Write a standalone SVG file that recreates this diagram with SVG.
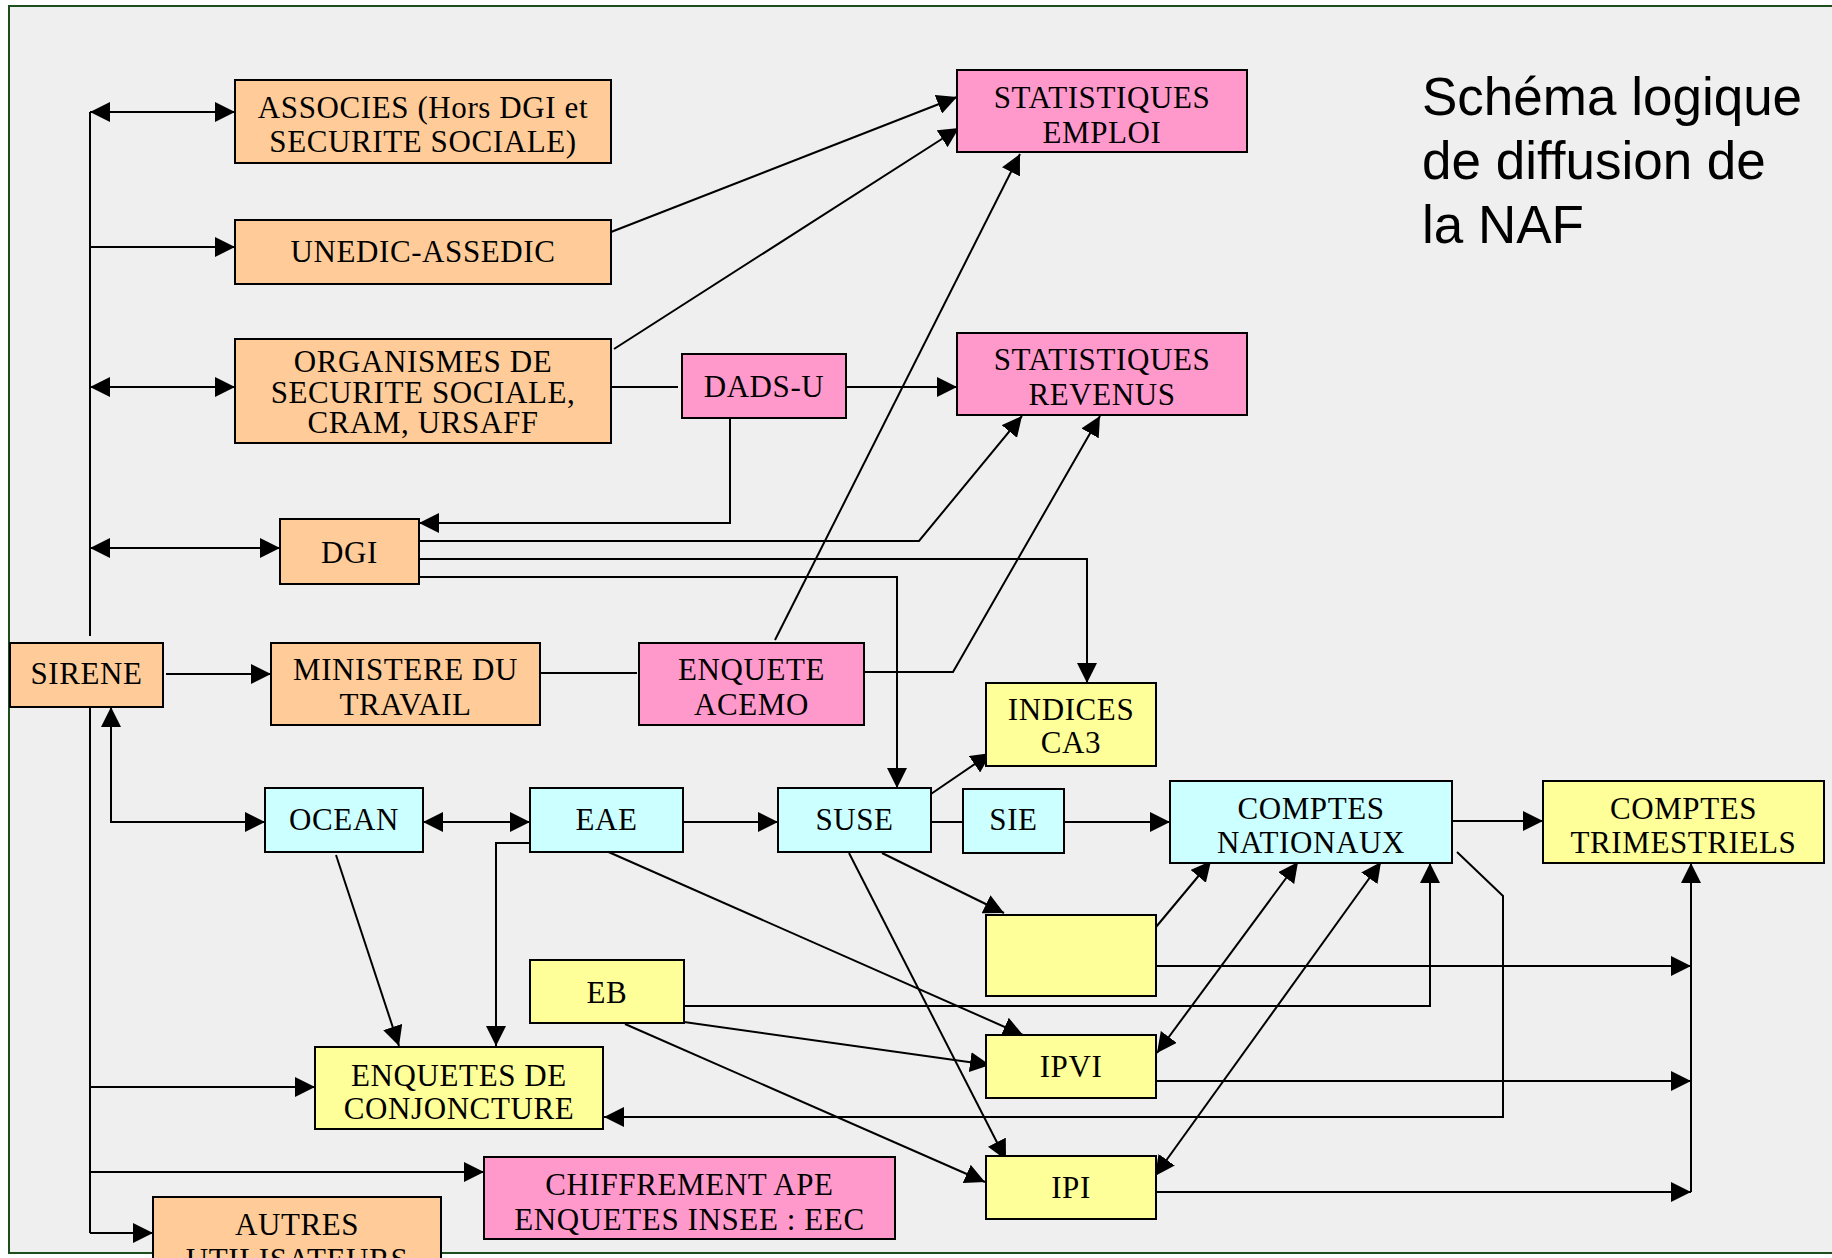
<svg xmlns="http://www.w3.org/2000/svg" width="1832" height="1258" viewBox="0 0 1832 1258">
<defs>
<marker id="ah" viewBox="0 0 20 20" markerUnits="userSpaceOnUse" markerWidth="20" markerHeight="20" refX="20" refY="10" orient="auto-start-reverse">
<path d="M0,0 L20,10 L0,20 z" fill="#000"/>
</marker>
<style>
.n rect{stroke:#000;stroke-width:2}
.or{fill:#FFCC99}
.pk{fill:#FF99CC}
.cy{fill:#CCFFFF}
.ye{fill:#FFFF99}
.n text{font-family:"Liberation Serif","Times New Roman",serif;font-size:31px;letter-spacing:0.6px;fill:#000;text-anchor:middle}
#conn path{fill:none;stroke:#000;stroke-width:2}
.e{marker-end:url(#ah)}
.b{marker-start:url(#ah);marker-end:url(#ah)}
.title{font-family:"Liberation Sans",Arial,sans-serif;font-size:53px;fill:#000}
</style>
</defs>
<rect x="0" y="0" width="1832" height="1258" fill="#FFFFFF"/>
<rect x="9" y="6" width="1840" height="1247" fill="#EFEFEF" stroke="#1E4D1E" stroke-width="2"/>
<text class="title" x="1422" y="115">Schéma logique</text>
<text class="title" x="1422" y="179">de diffusion de</text>
<text class="title" x="1422" y="243">la NAF</text>
<g id="conn">
<path class="b" d="M90,112 H235"/>
<path class="e" d="M90,247 H235"/>
<path class="b" d="M90,387 H235"/>
<path class="b" d="M90,548 H280"/>
<path d="M90,112 V636"/>
<path d="M90,707 V1233"/>
<path class="e" d="M166,674 H271"/>
<path class="b" d="M265,822 H111 V707"/>
<path class="b" d="M423,822 H530"/>
<path class="e" d="M90,1087 H315"/>
<path class="e" d="M90,1172 H484"/>
<path class="e" d="M90,1233 H153"/>
<path class="e" d="M611,232 L957,97"/>
<path class="e" d="M614,349 L959,128"/>
<path d="M611,387 H678"/>
<path class="e" d="M846,387 H957"/>
<path class="e" d="M730,418 V523 H419"/>
<path class="e" d="M419,541 H919 L1022,416"/>
<path class="e" d="M419,559 H1087 V683"/>
<path class="e" d="M419,577 H897 V788"/>
<path d="M540,673 H637"/>
<path class="e" d="M775,640 L1020,154"/>
<path class="e" d="M864,672 H953 L1100,416"/>
<path class="e" d="M928,796 L991,753"/>
<path class="e" d="M683,822 H778"/>
<path d="M931,822 H963"/>
<path class="e" d="M1064,822 H1170"/>
<path class="e" d="M1452,821 H1543"/>
<path class="e" d="M530,843 H496 V1046"/>
<path class="e" d="M336,855 L399,1046"/>
<path class="e" d="M604,850 L1023,1035"/>
<path class="e" d="M882,853 L1004,913"/>
<path class="e" d="M849,853 L1006,1160"/>
<path class="e" d="M684,1006 H1430 V863"/>
<path class="e" d="M684,1022 L990,1065"/>
<path class="e" d="M625,1024 L985,1182"/>
<path class="e" d="M1156,927 L1211,861"/>
<path class="b" d="M1298,862 L1157,1053"/>
<path class="b" d="M1381,862 L1155,1176"/>
<path class="e" d="M1457,852 L1503,896 V1117 H604"/>
<path class="e" d="M1156,966 H1691"/>
<path class="e" d="M1156,1081 H1691"/>
<path class="e" d="M1156,1192 H1691"/>
<path class="e" d="M1691,1192 V863"/>
</g>
<g id="associes" class="n"><rect class="or" x="235" y="80" width="376" height="83"/><text x="423" y="118">ASSOCIES (Hors DGI et</text><text x="423" y="152">SECURITE SOCIALE)</text></g>
<g id="unedic" class="n"><rect class="or" x="235" y="220" width="376" height="64"/><text x="423" y="262">UNEDIC-ASSEDIC</text></g>
<g id="organismes" class="n"><rect class="or" x="235" y="339" width="376" height="104"/><text x="423" y="372">ORGANISMES DE</text><text x="423" y="403">SECURITE SOCIALE,</text><text x="423" y="433">CRAM, URSAFF</text></g>
<g id="dgi" class="n"><rect class="or" x="280" y="519" width="139" height="65"/><text x="349.5" y="563">DGI</text></g>
<g id="sirene" class="n"><rect class="or" x="10" y="643" width="153" height="64"/><text x="86.5" y="684">SIRENE</text></g>
<g id="ministere" class="n"><rect class="or" x="271" y="643" width="269" height="82"/><text x="405.5" y="680">MINISTERE DU</text><text x="405.5" y="715">TRAVAIL</text></g>
<g id="ocean" class="n"><rect class="cy" x="265" y="788" width="158" height="64"/><text x="344" y="830">OCEAN</text></g>
<g id="eae" class="n"><rect class="cy" x="530" y="788" width="153" height="64"/><text x="606.5" y="830">EAE</text></g>
<g id="suse" class="n"><rect class="cy" x="778" y="788" width="153" height="64"/><text x="854.5" y="830">SUSE</text></g>
<g id="sie" class="n"><rect class="cy" x="963" y="789" width="101" height="64"/><text x="1013.5" y="830">SIE</text></g>
<g id="comptes-nationaux" class="n"><rect class="cy" x="1170" y="781" width="282" height="82"/><text x="1311" y="819">COMPTES</text><text x="1311" y="853">NATIONAUX</text></g>
<g id="comptes-trimestriels" class="n"><rect class="ye" x="1543" y="781" width="281" height="82"/><text x="1683.5" y="819">COMPTES</text><text x="1683.5" y="853">TRIMESTRIELS</text></g>
<g id="stat-emploi" class="n"><rect class="pk" x="957" y="70" width="290" height="82"/><text x="1102" y="108">STATISTIQUES</text><text x="1102" y="143">EMPLOI</text></g>
<g id="stat-revenus" class="n"><rect class="pk" x="957" y="333" width="290" height="82"/><text x="1102" y="370">STATISTIQUES</text><text x="1102" y="405">REVENUS</text></g>
<g id="dads-u" class="n"><rect class="pk" x="682" y="354" width="164" height="64"/><text x="764" y="397">DADS-U</text></g>
<g id="acemo" class="n"><rect class="pk" x="639" y="643" width="225" height="82"/><text x="751.5" y="680">ENQUETE</text><text x="751.5" y="715">ACEMO</text></g>
<g id="indices" class="n"><rect class="ye" x="986" y="683" width="170" height="83"/><text x="1071" y="720">INDICES</text><text x="1071" y="753">CA3</text></g>
<g id="eb" class="n"><rect class="ye" x="530" y="960" width="154" height="63"/><text x="607" y="1003">EB</text></g>
<g id="vide" class="n"><rect class="ye" x="986" y="915" width="170" height="81"/></g>
<g id="enquetes-conj" class="n"><rect class="ye" x="315" y="1047" width="288" height="82"/><text x="459" y="1086">ENQUETES DE</text><text x="459" y="1119">CONJONCTURE</text></g>
<g id="ipvi" class="n"><rect class="ye" x="986" y="1035" width="170" height="63"/><text x="1071" y="1077">IPVI</text></g>
<g id="ipi" class="n"><rect class="ye" x="986" y="1156" width="170" height="63"/><text x="1071" y="1198">IPI</text></g>
<g id="chiffrement" class="n"><rect class="pk" x="484" y="1157" width="411" height="82"/><text x="689.5" y="1195">CHIFFREMENT APE</text><text x="689.5" y="1230">ENQUETES INSEE : EEC</text></g>
<g id="autres" class="n"><rect class="or" x="153" y="1197" width="288" height="90"/><text x="297" y="1235">AUTRES</text><text x="297" y="1270">UTILISATEURS</text></g>
</svg>
